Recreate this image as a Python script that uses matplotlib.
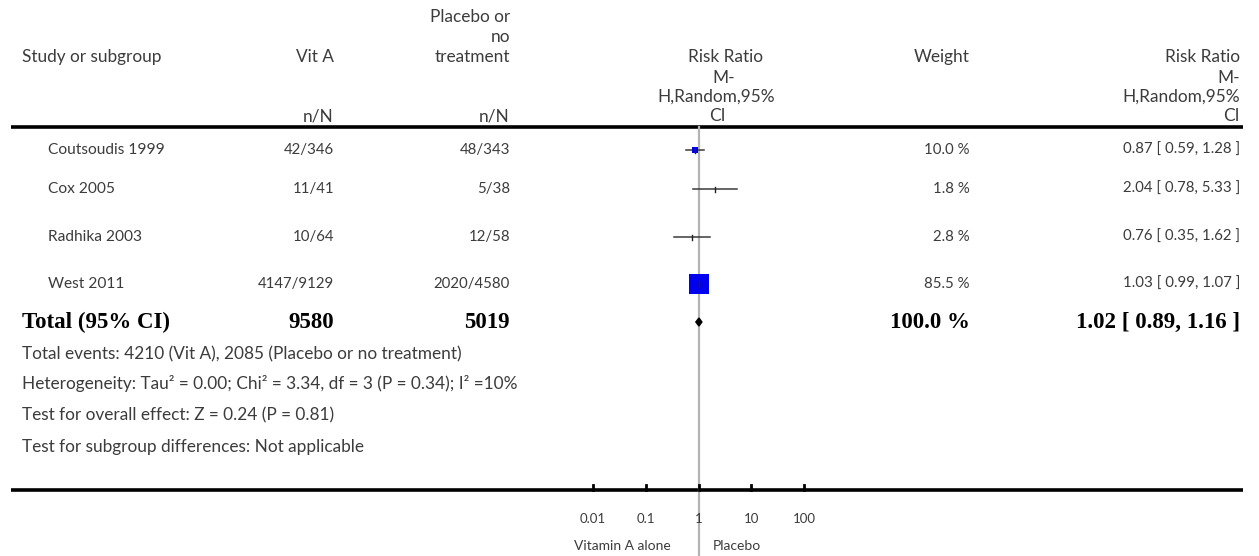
import matplotlib.pyplot as plt
import numpy as np

# Figure size in pixels
W, H = 1259, 556
TEXT = '#3c3c3c'
FONT = 'Lato'
SERIF = 'Liberation Serif'
FS = 12.4      # labels / headers / footer
FS_NUM = 10.8  # numeric cells
FS_ROW = 11.2  # study names

# Study data
studies = ['Coutsoudis 1999', 'Cox 2005', 'Radhika 2003', 'West 2011']
vita_nN = ['42/346', '11/41', '10/64', '4147/9129']
plac_nN = ['48/343', '5/38', '12/58', '2020/4580']
rr = [0.87, 2.04, 0.76, 1.03]
ci_lo = [0.59, 0.78, 0.35, 0.99]
ci_hi = [1.28, 5.33, 1.62, 1.07]
weights = [10.0, 1.8, 2.8, 85.5]

total_vita = '9580'
total_plac = '5019'
total_rr, total_lo, total_hi = 1.02, 0.89, 1.16
total_weight = '100.0 %'

footer = [
    'Total events: 4210 (Vit A), 2085 (Placebo or no treatment)',
    'Heterogeneity: Tau\u00b2 = 0.00; Chi\u00b2 = 3.34, df = 3 (P = 0.34); I\u00b2 =10%',
    'Test for overall effect: Z = 0.24 (P = 0.81)',
    'Test for subgroup differences: Not applicable',
]

tick_vals = [0.01, 0.1, 1, 10, 100]
tick_labels = ['0.01', '0.1', '1', '10', '100']

# Layout (pixel rows / columns)
row_y = [150, 189, 237, 284]
total_y = 322
footer_y = [354, 384, 415, 447]
axis_y = 490
X_STUDY, X_VITA, X_PLAC, X_WEIGHT, X_RR = 48, 334, 510, 970, 1240

fig = plt.figure(figsize=(W / 100, H / 100), dpi=100)
ax = fig.add_axes([0, 0, 1, 1])
ax.set_xlim(0, W)
ax.set_ylim(H, 0)
ax.axis('off')

# forest axes: log scale, 0.01 at x=593, 100 at x=804
fx0, fx1 = 593, 804
fax = fig.add_axes([fx0 / W, 0, (fx1 - fx0) / W, 1], sharey=ax)
fax.set_xscale('log')
fax.set_xlim(0.01, 100)
fax.patch.set_visible(False)
for s in fax.spines.values():
    s.set_visible(False)
fax.set_yticks([])
fax.set_xticks([])


def t(x, y, s, ha='left', **kw):
    kw.setdefault('fontsize', FS)
    kw.setdefault('color', TEXT)
    kw.setdefault('family', FONT)
    ax.text(x, y, s, ha=ha, va='center', **kw)


# header
t(22, 57, 'Study or subgroup')
t(X_VITA, 57, 'Vit A', ha='right')
for yy, s in zip([17, 37, 57], ['Placebo or', 'no', 'treatment']):
    t(X_PLAC, yy, s, ha='right')
t(X_VITA, 116, 'n/N', ha='right')
t(X_PLAC, 116, 'n/N', ha='right')
for yy, s, xc in zip([57, 78, 97, 116], ['Risk Ratio', 'M-', 'H,Random,95%', 'CI'],
                     [726, 724, 716, 717]):
    t(xc, yy, s, ha='center')
t(X_WEIGHT, 57, 'Weight', ha='right')
for yy, s in zip([57, 78, 97, 116], ['Risk Ratio', 'M-', 'H,Random,95%', 'CI']):
    t(X_RR, yy, s, ha='right')

ax.plot([11, 1243], [127, 127], color='black', lw=2.6, solid_capstyle='butt')
ax.plot([11, 1243], [axis_y, axis_y], color='black', lw=2.6, solid_capstyle='butt')

# study rows
for i, name in enumerate(studies):
    y = row_y[i]
    t(X_STUDY, y, name, fontsize=FS_ROW)
    t(X_VITA, y, vita_nN[i], ha='right', fontsize=FS_NUM)
    t(X_PLAC, y, plac_nN[i], ha='right', fontsize=FS_NUM)
    t(X_WEIGHT, y, f'{weights[i]:.1f} %', ha='right', fontsize=FS_NUM)
    t(X_RR, y, f'{rr[i]:.2f} [ {ci_lo[i]:.2f}, {ci_hi[i]:.2f} ]', ha='right', fontsize=FS_NUM)

# reference line
fax.axvline(1, ymin=0, ymax=1 - 127 / H, color='#b4b4b4', lw=1.6, zorder=1)

# CI lines and squares (size ~ weight)
for i in range(len(studies)):
    y = row_y[i]
    fax.plot([ci_lo[i], ci_hi[i]], [y, y], color='#3a3a3a', lw=1.1, zorder=2)
    side = 2.2 * np.sqrt(weights[i])  # pixels
    if weights[i] > 5:
        fax.plot(rr[i], y, marker='s', ms=side * 0.72, color='#0000ee', mec='#0000ee',
                 mew=0, zorder=3, linestyle='none')
    fax.plot([rr[i], rr[i]], [y - 2.5, y + 2.5], color='#222222', lw=1.0, zorder=4)

# total diamond
fax.fill([total_lo, total_rr, total_hi, total_rr], [total_y, total_y - 4, total_y, total_y + 4],
         color='black', zorder=3)

# total row
tb = dict(family=SERIF, fontweight='bold', fontsize=16.5, color='black')
t(22, total_y, 'Total (95% CI)', **tb)
t(X_VITA, total_y, total_vita, ha='right', **tb)
t(X_PLAC, total_y, total_plac, ha='right', **tb)
t(X_WEIGHT, total_y, total_weight, ha='right', **tb)
t(X_RR, total_y, f'{total_rr:.2f} [ {total_lo:.2f}, {total_hi:.2f} ]', ha='right', **tb)

for yy, s in zip(footer_y, footer):
    t(22, yy, s)

# axis ticks
for v, lab in zip(tick_vals, tick_labels):
    fax.plot([v, v], [axis_y - 5, axis_y], color='black', lw=2.0, zorder=3, clip_on=False)
    fax.text(v, 519, lab, ha='center', va='center', fontsize=9.5, color=TEXT, family=FONT)
fax.text(0.3, 546, 'Vitamin A alone', ha='right', va='center', fontsize=10, color=TEXT,
         family=FONT)
fax.text(1.84, 546, 'Placebo', ha='left', va='center', fontsize=10, color=TEXT, family=FONT)

fig.savefig('out.png', dpi=100)
